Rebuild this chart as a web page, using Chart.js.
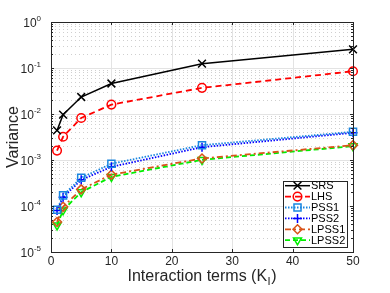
<!DOCTYPE html>
<html><head><meta charset="utf-8">
<script src="https://cdn.jsdelivr.net/npm/chart.js@4"></script>
<style>html,body{margin:0;padding:0;background:#fff}#wrap{width:390px;height:293px}</style>
</head><body><div id="wrap"><canvas id="c" width="390" height="293"></canvas></div>
<script>
const xValues = [1, 2, 5, 10, 25, 50];
const srs   = [0.0044, 0.0097, 0.0234, 0.046, 0.124, 0.255];
const lhs   = [0.0016, 0.0032, 0.0082, 0.016, 0.037, 0.085];
const pss1  = [8.3e-5, 1.7e-4, 4.1e-4, 8.3e-4, 0.0021, 0.0041];
const pss2  = [8.0e-5, 1.55e-4, 3.7e-4, 7.1e-4, 0.0019, 0.0039];
const lpss1 = [4.5e-5, 9.6e-5, 2.3e-4, 4.8e-4, 0.00108, 0.0021];
const lpss2 = [3.8e-5, 8.1e-5, 2.0e-4, 4.3e-4, 0.00101, 0.0020];
const seriesNames = ['SRS', 'LHS', 'PSS1', 'PSS2', 'LPSS1', 'LPSS2'];
const xTicks = [0, 10, 20, 30, 40, 50];
const yExponents = [0, -1, -2, -3, -4, -5];
const xTitle = 'Interaction terms (K';
const xTitleSub = 'I';
const xTitleEnd = ')';
const yTitle = 'Variance';

const FONT = '"Liberation Sans", Arial, Helvetica, sans-serif';
function pts(arr){ return xValues.map((x,i)=>({x:x, y:arr[i]})); }

const styles = [
  {c:'#000000', dash:[], ps:'crossRot', r:5.5, rot:0},
  {c:'#ff0000', dash:[6,4], ps:'circle', r:4.3, rot:0},
  {c:'#1a86e0', dash:[1.5,1.5], ps:'rect', r:5, rot:0},
  {c:'#0000ff', dash:[1.5,1.5], ps:'cross', r:4.5, rot:0},
  {c:'#d95319', dash:[6,3,2,3], ps:'rectRot', r:4.5, rot:0},
  {c:'#00ee00', dash:[5,3], ps:'triangle', r:4.6, rot:180}
];
const allData = [srs, lhs, pss1, pss2, lpss1, lpss2];

const datasets = allData.map((d,i)=>({
  label: seriesNames[i],
  data: pts(d),
  borderColor: styles[i].c,
  backgroundColor: 'rgba(0,0,0,0)',
  borderDash: styles[i].dash,
  borderWidth: i===0 ? 1.5 : 1.8,
  pointStyle: styles[i].ps,
  pointRadius: styles[i].r,
  pointRotation: styles[i].rot,
  pointBorderWidth: 1.5,
  pointBorderColor: styles[i].c,
  pointBackgroundColor: 'rgba(0,0,0,0)',
  tension: 0,
  clip: false
}));

const decorPlugin = {
  id: 'decor',
  beforeDatasetsDraw(chart){
    const ctx = chart.ctx, a = chart.chartArea;
    const xs = chart.scales.x, ys = chart.scales.y;
    ctx.save();
    // minor dotted y grid
    ctx.strokeStyle = '#cfcfcf';
    ctx.lineWidth = 1;
    ctx.setLineDash([1,3]);
    for (const e of yExponents){
      for (let m=2;m<=9;m++){
        const v = m*Math.pow(10,e);
        if (v>=1) continue;
        const y = Math.round(ys.getPixelForValue(v))+0.5;
        ctx.beginPath(); ctx.moveTo(a.left,y); ctx.lineTo(a.right,y); ctx.stroke();
      }
    }
    ctx.setLineDash([]);
    // major grid
    ctx.strokeStyle = '#e3e3e3';
    for (const e of yExponents){
      const y = Math.round(ys.getPixelForValue(Math.pow(10,e)))+0.5;
      ctx.beginPath(); ctx.moveTo(a.left,y); ctx.lineTo(a.right,y); ctx.stroke();
    }
    for (const t of xTicks){
      const x = Math.round(xs.getPixelForValue(t))+0.5;
      ctx.beginPath(); ctx.moveTo(x,a.top); ctx.lineTo(x,a.bottom); ctx.stroke();
    }
    ctx.restore();
  },
  afterDatasetsDraw(chart){
    const ctx = chart.ctx, a = chart.chartArea;
    const xs = chart.scales.x, ys = chart.scales.y;
    ctx.save();
    ctx.strokeStyle = '#262626';
    ctx.lineWidth = 1;
    // ticks
    for (const t of xTicks){
      const x = Math.round(xs.getPixelForValue(t))+0.5;
      ctx.beginPath(); ctx.moveTo(x,a.bottom); ctx.lineTo(x,a.bottom-3);
      ctx.moveTo(x,a.top); ctx.lineTo(x,a.top+3); ctx.stroke();
    }
    for (const e of yExponents){
      for (let m=1;m<=9;m++){
        const v = m*Math.pow(10,e);
        if (v>1) continue;
        const len = m===1 ? 3 : 2;
        const y = Math.round(ys.getPixelForValue(v))+0.5;
        ctx.beginPath(); ctx.moveTo(a.left,y); ctx.lineTo(a.left+len,y);
        ctx.moveTo(a.right,y); ctx.lineTo(a.right-len,y); ctx.stroke();
      }
    }
    // box
    ctx.strokeRect(Math.round(a.left)+0.5, Math.round(a.top)+0.5, Math.round(a.right-a.left), Math.round(a.bottom-a.top));
    // x tick labels
    ctx.fillStyle = '#262626';
    ctx.font = '12px ' + FONT;
    ctx.textAlign = 'center'; ctx.textBaseline = 'middle';
    for (const t of xTicks){
      ctx.fillText(String(t), xs.getPixelForValue(t), a.bottom + 9.5);
    }
    // y tick labels with superscript
    for (const e of yExponents){
      const y = ys.getPixelForValue(Math.pow(10,e));
      const exp = String(e);
      ctx.font = '8px ' + FONT;
      const ew = ctx.measureText(exp).width;
      ctx.font = '12px ' + FONT;
      const bw = ctx.measureText('10').width;
      const right = a.left - 10;
      ctx.textAlign = 'left'; ctx.textBaseline = 'alphabetic';
      ctx.fillText('10', right - ew - bw, y + 5);
      ctx.font = '8px ' + FONT;
      ctx.fillText(exp, right - ew, y - 1);
    }
    // y title
    ctx.save();
    ctx.font = '16px ' + FONT;
    ctx.textAlign = 'center'; ctx.textBaseline = 'middle';
    ctx.translate(14, (a.top+a.bottom)/2);
    ctx.rotate(-Math.PI/2);
    ctx.fillText(yTitle, 0, 0);
    ctx.restore();
    // x title with subscript
    ctx.font = '16px ' + FONT;
    const w1 = ctx.measureText(xTitle).width;
    const w3 = ctx.measureText(xTitleEnd).width;
    ctx.font = '11px ' + FONT;
    const w2 = ctx.measureText(xTitleSub).width;
    const total = w1 + w2 + 1 + w3;
    let x0 = (a.left + a.right)/2 - total/2;
    const base = 281;
    ctx.textAlign = 'left'; ctx.textBaseline = 'alphabetic';
    ctx.font = '16px ' + FONT;
    ctx.fillText(xTitle, x0, base);
    ctx.font = '11px ' + FONT;
    ctx.fillText(xTitleSub, x0 + w1 + 0.5, base + 4);
    ctx.font = '16px ' + FONT;
    ctx.fillText(xTitleEnd, x0 + w1 + w2 + 1, base);
    // legend
    const lx = 283.5, ly = 181.5, lw = 64, lh = 66;
    ctx.fillStyle = '#ffffff';
    ctx.fillRect(lx, ly, lw, lh);
    ctx.strokeStyle = '#262626';
    ctx.lineWidth = 1;
    ctx.strokeRect(lx, ly, lw, lh);
    chart.data.datasets.forEach((ds, i) => {
      const yy = 185.7 + i*10.9;
      ctx.save();
      ctx.strokeStyle = ds.borderColor;
      ctx.lineWidth = ds.borderWidth;
      ctx.setLineDash(ds.borderDash);
      ctx.beginPath(); ctx.moveTo(285, yy); ctx.lineTo(310, yy); ctx.stroke();
      ctx.setLineDash([]);
      ctx.lineWidth = ds.pointBorderWidth;
      ctx.fillStyle = 'rgba(0,0,0,0)';
      Chart.helpers.drawPoint(ctx, {pointStyle: ds.pointStyle, radius: ds.pointRadius, rotation: ds.pointRotation, borderWidth: ds.pointBorderWidth}, 297.5, yy);
      ctx.restore();
      ctx.fillStyle = '#000000';
      ctx.font = '11px ' + FONT;
      ctx.textAlign = 'left'; ctx.textBaseline = 'middle';
      ctx.fillText(ds.label, 311, yy + 0.5);
    });
    ctx.restore();
  }
};

new Chart(document.getElementById('c'), {
  type: 'line',
  data: { datasets },
  options: {
    responsive: false,
    animation: false,
    devicePixelRatio: 1,
    layout: { padding: { left: 0, right: 37, top: 22, bottom: 0 } },
    plugins: { legend: { display: false }, tooltip: { enabled: false } },
    scales: {
      x: {
        type: 'linear', min: 0, max: 50,
        ticks: { display: false, stepSize: 10 },
        grid: { display: false, drawTicks: false },
        border: { display: false },
        afterFit(s){ s.height = 41; }
      },
      y: {
        type: 'logarithmic', min: 1e-5, max: 1,
        ticks: { display: false },
        grid: { display: false, drawTicks: false },
        border: { display: false },
        afterFit(s){ s.width = 51; }
      }
    }
  },
  plugins: [decorPlugin]
});
</script>
</body></html>
